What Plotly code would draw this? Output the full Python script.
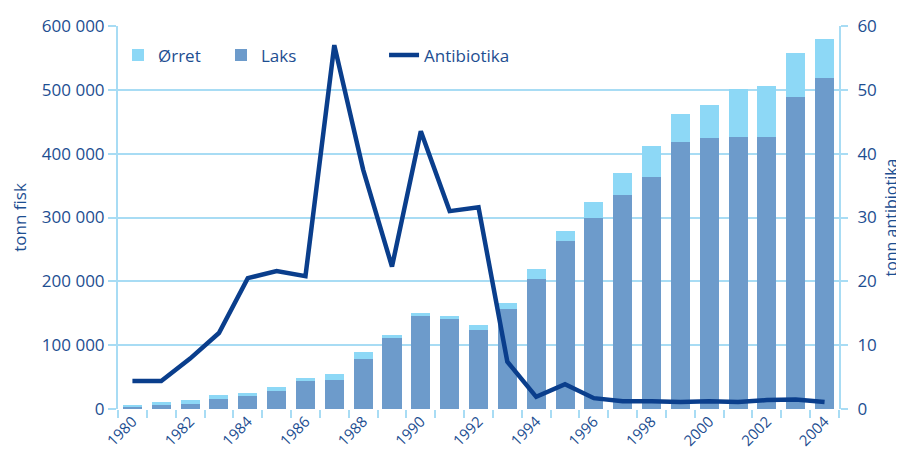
import plotly.graph_objects as go

years = list(range(1980, 2005))
laks = [2500, 6300, 8000, 15700, 20400, 28200, 43900, 45400, 78300, 111000,
        145700, 141000, 123800, 156700, 203700, 263200, 299200, 335300, 363500, 418000,
        424500, 426000, 426000, 488800, 518600]
totalt = [6000, 11000, 14100, 21900, 25000, 34500, 48600, 54800, 89300, 116000,
          150400, 145700, 131600, 166000, 219300, 278900, 324300, 369700, 412000, 462000,
          476000, 500800, 506000, 557700, 579600]
orret = [t - l for t, l in zip(totalt, laks)]
antibiotika = [4.4, 4.4, 7.9, 11.9, 20.5, 21.6, 20.8, 57.0, 37.5, 22.3,
               43.5, 31.0, 31.6, 7.4, 1.9, 3.9, 1.7, 1.2, 1.2, 1.1,
               1.2, 1.1, 1.4, 1.5, 1.1]

left_tickvals = [0, 100000, 200000, 300000, 400000, 500000, 600000]
left_ticktext = ["0", "100 000", "200 000", "300 000", "400 000", "500 000", "600 000"]
right_tickvals = [0, 10, 20, 30, 40, 50, 60]
x_tickvals = list(range(1980, 2005, 2))
x_boundaries = [y - 0.5 for y in range(1980, 2006)]

TXT = "#1d4e91"
GRID = "#a8dcf4"
FONT = "Open Sans"

fig = go.Figure()
fig.add_trace(go.Bar(x=years, y=laks, name="Laks", marker_color="#6d9bcb",
                     marker_line_width=0, width=0.66, legend="legend"))
fig.add_trace(go.Bar(x=years, y=orret, name="Ørret", marker_color="#8dd8f6",
                     marker_line_width=0, width=0.66, legend="legend"))
fig.add_trace(go.Scatter(x=years, y=antibiotika, name="Antibiotika", yaxis="y2",
                         mode="lines", line=dict(color="#0a3e8c", width=4.5),
                         legend="legend2"))

# page body has an 8px margin, so the figure is sized to fit the 904x451 window
fig.update_layout(
    width=896, height=443,
    barmode="stack",
    plot_bgcolor="white", paper_bgcolor="white",
    margin=dict(l=110, r=65, t=18, b=42),
    font=dict(family=FONT, size=15, color=TXT),
    xaxis=dict(
        range=[1979.5, 2004.5], tickvals=x_tickvals, ticktext=[str(v) for v in x_tickvals],
        tickangle=-45, ticks="", ticklen=0, showgrid=False, zeroline=False,
        showline=False, tickfont=dict(size=15, color=TXT), automargin=False,
        minor=dict(tickvals=x_boundaries, ticks="outside", ticklen=8, tickwidth=2,
                   tickcolor=GRID, showgrid=False),
    ),
    yaxis=dict(
        range=[0, 600000], tickvals=left_tickvals, ticktext=left_ticktext,
        showgrid=True, gridcolor=GRID, gridwidth=2, zeroline=False,
        showline=True, linecolor=GRID, linewidth=2, automargin=False,
        ticks="outside", ticklen=8, tickwidth=2, tickcolor=GRID,
        tickfont=dict(size=17, color=TXT),
        title=dict(text="tonn fisk", font=dict(size=17, color=TXT), standoff=14),
    ),
    yaxis2=dict(
        range=[0, 60], tickvals=right_tickvals, overlaying="y", side="right",
        showgrid=False, zeroline=False, showline=True, linecolor=GRID, linewidth=2,
        ticks="outside", ticklen=7, tickwidth=2, tickcolor=GRID, automargin=False,
        ticklabelstandoff=6,
        tickfont=dict(size=17, color=TXT),
        title=dict(text="tonn antibiotika", font=dict(size=16, color=TXT), standoff=10),
    ),
    legend=dict(orientation="h", x=0.0, y=0.97, xanchor="left", yanchor="top",
                traceorder="reversed", entrywidth=58, entrywidthmode="pixels",
                font=dict(size=17, color=TXT), bgcolor="rgba(0,0,0,0)"),
    legend2=dict(orientation="h", x=0.369, y=0.97, xanchor="left", yanchor="top",
                 font=dict(size=17, color=TXT), bgcolor="rgba(0,0,0,0)"),
)

fig.write_html("out.html")
